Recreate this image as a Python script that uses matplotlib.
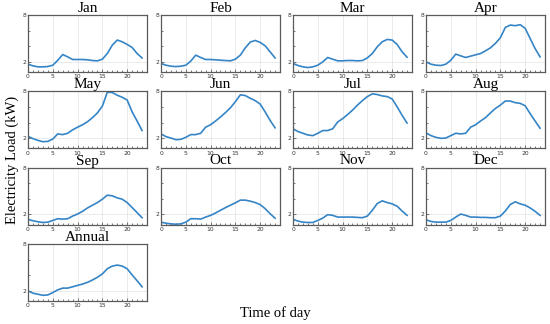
import numpy as np
import matplotlib
matplotlib.use("Agg")
import matplotlib.pyplot as plt
from matplotlib.ticker import MultipleLocator, FixedLocator

# hourly load profiles (kW), hours 0..23
hours = list(range(24))

jan = [1.7, 1.49, 1.36, 1.36, 1.4, 1.57, 2.2, 2.94, 2.64, 2.3, 2.3, 2.3,
       2.26, 2.17, 2.13, 2.34, 3.07, 4.14, 4.79, 4.57, 4.23, 3.84, 3.07, 2.5]
feb = [1.79, 1.57, 1.44, 1.4, 1.44, 1.57, 2.09, 2.86, 2.56, 2.3, 2.3, 2.26,
       2.21, 2.17, 2.13, 2.34, 2.86, 3.8, 4.53, 4.74, 4.49, 4.06, 3.29, 2.5]
mar = [1.79, 1.53, 1.36, 1.27, 1.36, 1.57, 2.0, 2.56, 2.34, 2.13, 2.13, 2.17,
       2.17, 2.13, 2.17, 2.51, 3.07, 3.93, 4.57, 4.87, 4.79, 4.23, 3.29, 2.6]
apr = [2.0, 1.7, 1.57, 1.53, 1.7, 2.2, 2.99, 2.77, 2.56, 2.73, 2.9, 3.07,
       3.41, 3.8, 4.36, 5.09, 6.41, 6.71, 6.63, 6.76, 6.29, 5.0, 3.71, 2.64]
may = [2.26, 1.96, 1.74, 1.57, 1.61, 1.91, 2.57, 2.48, 2.65, 3.09, 3.43, 3.74,
       4.13, 4.65, 5.26, 6.13, 7.91, 7.87, 7.52, 7.26, 6.91, 5.39, 4.22, 3.0]
jun = [2.57, 2.22, 2.04, 1.83, 1.87, 2.13, 2.48, 2.48, 2.65, 3.43, 3.74, 4.22,
       4.74, 5.3, 5.91, 6.7, 7.57, 7.48, 7.13, 6.83, 6.39, 5.39, 4.3, 3.35]
jul = [3.22, 2.87, 2.65, 2.43, 2.35, 2.65, 3.0, 3.0, 3.22, 4.09, 4.52, 5.04,
       5.61, 6.26, 6.83, 7.35, 7.7, 7.61, 7.43, 7.35, 7.04, 6.04, 4.96, 3.96]
aug = [2.7, 2.35, 2.13, 2.0, 2.04, 2.35, 2.65, 2.57, 2.65, 3.43, 3.74, 4.22,
       4.65, 5.26, 5.83, 6.26, 6.78, 6.78, 6.57, 6.48, 6.17, 5.17, 4.22, 3.3]
sep = [1.35, 1.18, 1.05, 0.96, 1.0, 1.22, 1.44, 1.39, 1.44, 1.78, 2.04, 2.39,
       2.82, 3.17, 3.51, 3.94, 4.46, 4.37, 4.11, 3.94, 3.51, 2.87, 2.22, 1.57]
oct_ = [1.0, 0.87, 0.78, 0.74, 0.78, 1.0, 1.44, 1.44, 1.39, 1.65, 1.87, 2.17,
        2.52, 2.86, 3.17, 3.47, 3.82, 3.82, 3.69, 3.51, 3.25, 2.73, 2.09, 1.5]
nov = [1.35, 1.14, 1.0, 0.96, 0.96, 1.22, 1.52, 1.96, 1.87, 1.65, 1.65, 1.65,
       1.65, 1.61, 1.57, 1.78, 2.52, 3.39, 3.73, 3.51, 3.34, 3.04, 2.43, 1.87]
dec = [1.3, 1.09, 1.0, 1.0, 1.0, 1.22, 1.65, 2.04, 1.87, 1.65, 1.65, 1.61,
       1.61, 1.57, 1.57, 1.78, 2.43, 3.26, 3.61, 3.34, 3.17, 2.82, 2.39, 1.87]
annual = [2.0, 1.7, 1.57, 1.43, 1.48, 1.78, 2.13, 2.35, 2.35, 2.52, 2.7, 2.87,
          3.09, 3.39, 3.74, 4.17, 4.83, 5.17, 5.3, 5.17, 4.83, 4.04, 3.3, 2.52]

titles = ["Jan", "Feb", "Mar", "Apr", "May", "Jun", "Jul", "Aug",
          "Sep", "Oct", "Nov", "Dec", "Annual"]
profiles = [jan, feb, mar, apr, may, jun, jul, aug, sep, oct_, nov, dec, annual]

W, H = 550, 324
fig = plt.figure(figsize=(W / 100, H / 100), dpi=100)

col_left = [28, 161, 293, 426]
row_top = [15, 91.5, 167.5, 244]
ax_w, ax_h = 119, 57
line_col = "#3585c6"

for i, (name, vals) in enumerate(zip(titles, profiles)):
    r, c = divmod(i, 4)
    ax = fig.add_axes([col_left[c] / W, 1 - (row_top[r] + ax_h) / H, ax_w / W, ax_h / H])
    ax.plot(hours, vals, color=line_col, lw=1.2)
    ax.set_xlim(0, 24)
    ax.set_ylim(0.7, 8)
    ax.set_xticks([0, 5, 10, 15, 20])
    ax.xaxis.set_minor_locator(MultipleLocator(1))
    ax.set_yticks([2, 8])
    ax.yaxis.set_minor_locator(FixedLocator([4, 6]))
    ax.tick_params(which="both", direction="in", labelsize=4.3, colors="#444444",
                   length=2, width=0.5, pad=1.5, labelcolor="#333333")
    ax.tick_params(which="minor", length=1.2)
    ax.grid(True, which="major", color="#e3e3e3", lw=0.5)
    for s in ax.spines.values():
        s.set_color("#5a5a5a")
        s.set_linewidth(0.9)
    ax.set_title(name, family="Liberation Serif", fontsize=11, pad=1)

fig.text(12 / W, 1 - 160 / H, "Electricity Load (kW)", rotation=90, ha="center",
         va="center", family="Liberation Serif", fontsize=10.5)
fig.text(275 / W, 1 - 313 / H, "Time of day", ha="center", va="center",
         family="Liberation Serif", fontsize=10.5)

fig.savefig("out.png", dpi=100)
